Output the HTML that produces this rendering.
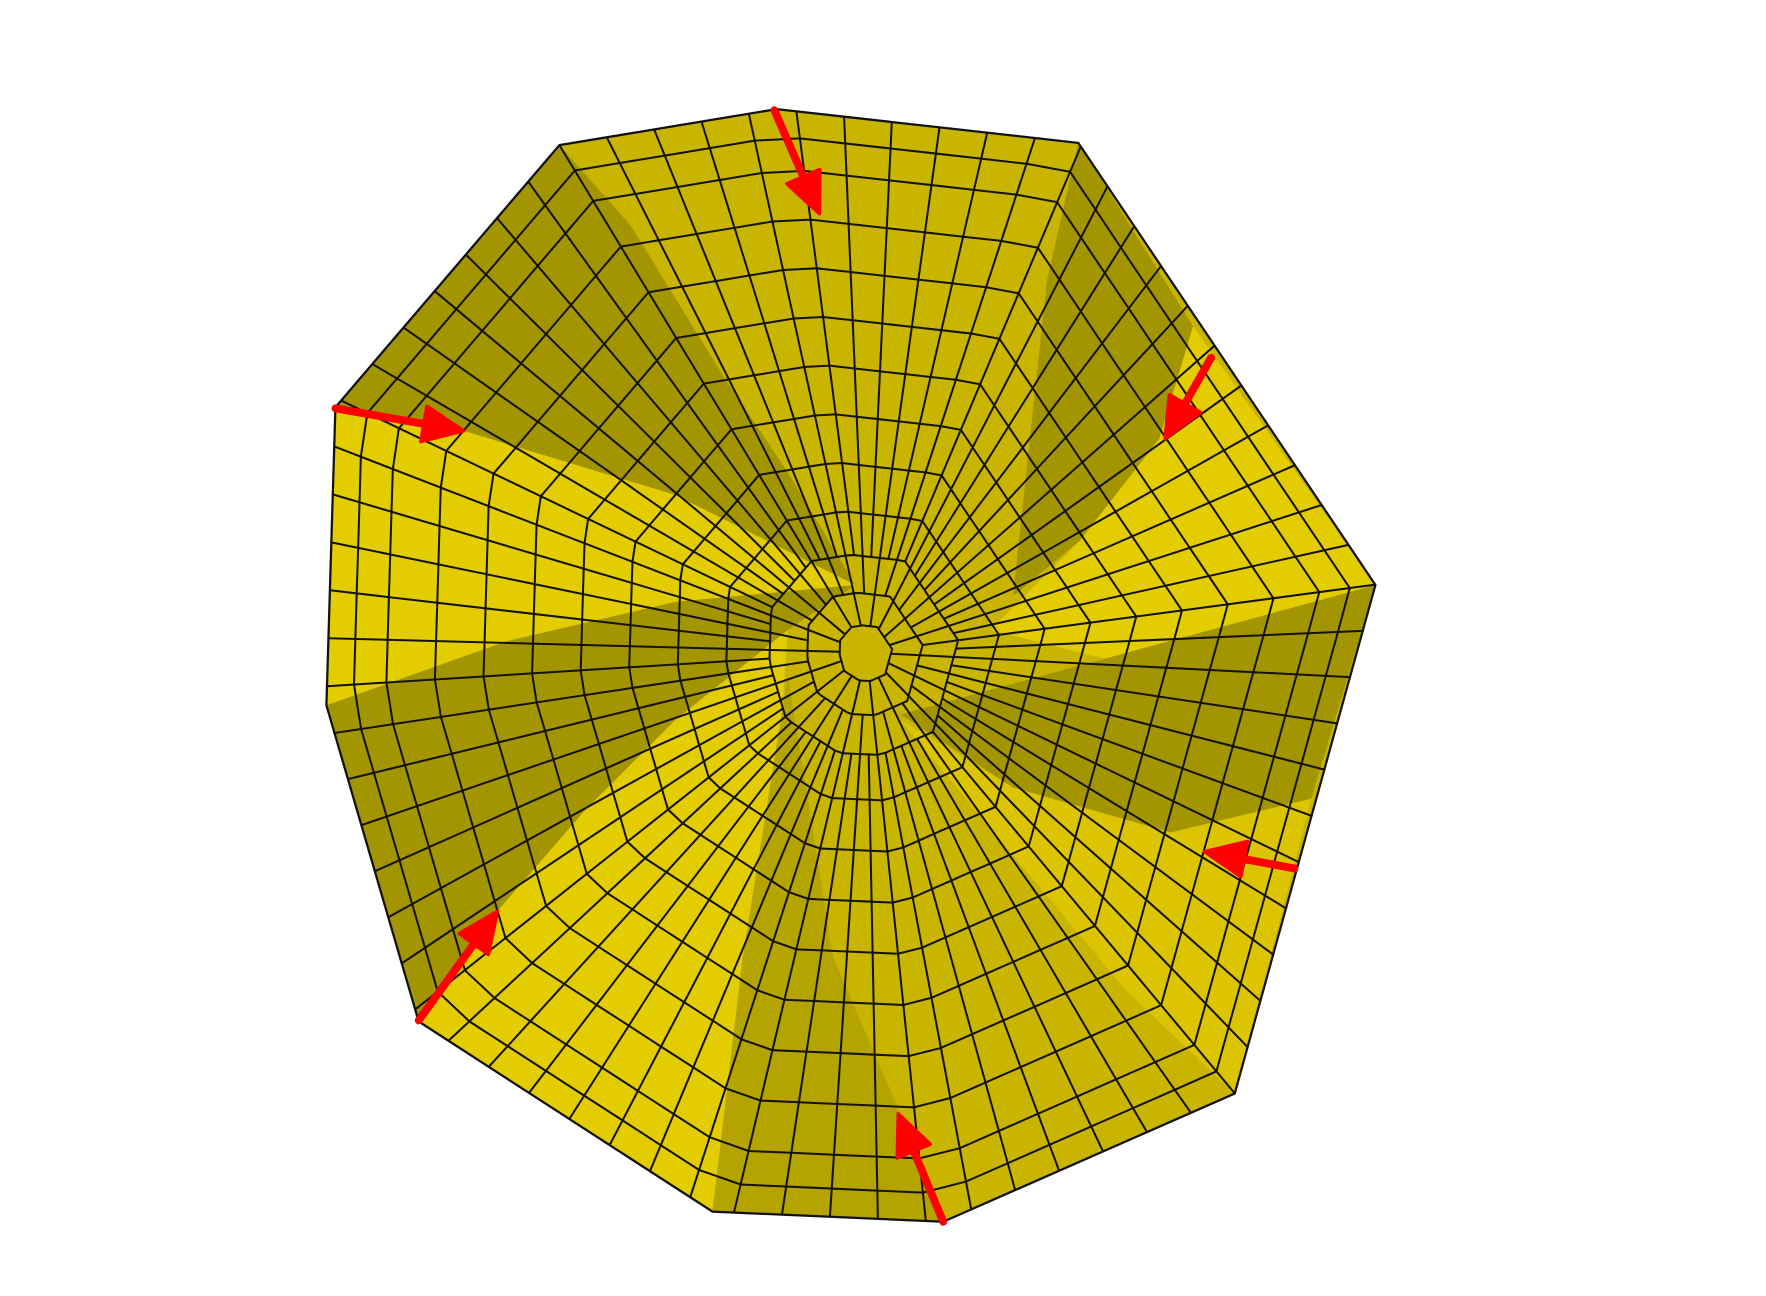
<!DOCTYPE html>
<html><head><meta charset="utf-8"><style>html,body{margin:0;padding:0;background:#fff}svg{display:block}</style></head>
<body>
<svg id="fig" width="1766" height="1296" viewBox="0 0 1569 1152" preserveAspectRatio="none" xmlns="http://www.w3.org/2000/svg">
<g id="patches"></g>
<g id="mesh" stroke="#141200" stroke-width="1.8" fill="none"></g>
<polygon id="outline" fill="none" stroke="#111" stroke-width="2"></polygon>
<g id="arrows"></g>
</svg>
<script>
const outerX=[497,690,958,1222,1097,838,633,372,290,298];
const outerY=[129,97,127,520,972,1086,1077,908,627,362];
const center=[770,580];
const patchList=[
 ["#a39500",[[298,362],[497,129],[560,200],[640,330],[700,420],[760,520],[412,383]]],
 ["#e3cc00",[[298,362],[412,383],[600,440],[760,520],[600,535],[450,570],[290,627]]],
 ["#a39500",[[290,627],[450,570],[600,535],[760,520],[700,560],[600,640],[520,720],[442,810],[372,908]]],
 ["#e3cc00",[[372,908],[442,810],[520,720],[600,640],[700,560],[690,700],[660,850],[633,1077]]],
 ["#b5a300",[[633,1077],[660,850],[700,600],[740,850],[800,990],[838,1086]]],
 ["#a39500",[[958,127],[1060,290],[1030,390],[960,480],[900,530],[930,250]]],
 ["#e3cc00",[[1030,390],[1060,290],[1222,520],[1000,590],[880,560],[960,480]]],
 ["#a39500",[[800,635],[1222,520],[1165,710],[1040,740],[900,700]]],
 ["#dcc500",[[800,640],[900,700],[1040,740],[1165,710],[1097,972],[1000,880],[900,760]]]
];
const ringT=[0.05,0.11,0.18,0.26,0.35,0.44,0.53,0.62,0.71,0.80,0.89,0.95];
const radialCount=72;
const arrowFrom=[[688,98],[298,363],[1076,318],[1150,772],[372,907],[838,1086]];
const arrowTo=[[728,190],[412,383],[1035,390],[1070,757],[442,810],[798,990]];

const NS="http://www.w3.org/2000/svg";
const pg=document.getElementById('patches');
const poly=outerX.map((x,i)=>x+","+outerY[i]).join(" ");
let base=document.createElementNS(NS,'polygon');
base.setAttribute('points',poly);base.setAttribute('fill','#c9b500');


pg.appendChild(base);
document.getElementById('outline').setAttribute('points',poly);
patchList.forEach(p=>{
 let e=document.createElementNS(NS,'polygon');
 e.setAttribute('points',p[1].map(q=>q.join(",")).join(" "));
 e.setAttribute('fill',p[0]);
 
 
 pg.appendChild(e);
});
const n=outerX.length;let segs=[],tot=0;
for(let i=0;i<n;i++){const j=(i+1)%n;const l=Math.hypot(outerX[j]-outerX[i],outerY[j]-outerY[i]);segs.push(l);tot+=l;}
function perim(s){s=((s%tot)+tot)%tot;for(let i=0;i<n;i++){if(s<=segs[i]){const j=(i+1)%n,f=s/segs[i];return[outerX[i]+f*(outerX[j]-outerX[i]),outerY[i]+f*(outerY[j]-outerY[i])];}s-=segs[i];}return[outerX[0],outerY[0]];}
const bpts=[];for(let k=0;k<radialCount;k++)bpts.push(perim(k*tot/radialCount));
const mg=document.getElementById('mesh');
function warp(p,t){return[center[0]+t*(p[0]-center[0]),center[1]+t*(p[1]-center[1])];}
ringT.forEach(t=>{
 let d="";bpts.forEach((p,k)=>{const q=warp(p,t);d+=(k?"L":"M")+q[0].toFixed(1)+" "+q[1].toFixed(1);});d+="Z";
 let e=document.createElementNS(NS,'path');e.setAttribute('d',d);
 
 
 mg.appendChild(e);
});
bpts.forEach((p,k)=>{
 const st=k%2?0.18:(k%4?0.11:0.05);const q=warp(p,st);
 let e=document.createElementNS(NS,'line');
 e.setAttribute('x1',q[0]);e.setAttribute('y1',q[1]);e.setAttribute('x2',p[0]);e.setAttribute('y2',p[1]);
 
 
 mg.appendChild(e);
});
const ag=document.getElementById('arrows');
arrowFrom.forEach((a,i)=>{
 const b=arrowTo[i];const dx=b[0]-a[0],dy=b[1]-a[1],L=Math.hypot(dx,dy),ux=dx/L,uy=dy/L;
 const hx=b[0]-ux*36,hy=b[1]-uy*36;
 let l=document.createElementNS(NS,'line');
 l.setAttribute('x1',a[0]);l.setAttribute('y1',a[1]);l.setAttribute('x2',hx);l.setAttribute('y2',hy);
 l.setAttribute('stroke','#ff0000');l.setAttribute('stroke-width','7');l.setAttribute('stroke-linecap','round');
 
 
 ag.appendChild(l);
 let h=document.createElementNS(NS,'polygon');
 h.setAttribute('points',`${b[0]},${b[1]} ${hx-uy*16},${hy+ux*16} ${hx+uy*16},${hy-ux*16}`);
 h.setAttribute('fill','#ff0000');h.setAttribute('stroke','#ff0000');h.setAttribute('stroke-width','3');h.setAttribute('stroke-linejoin','round');
 
 
 ag.appendChild(h);
});
</script>
</body></html>
